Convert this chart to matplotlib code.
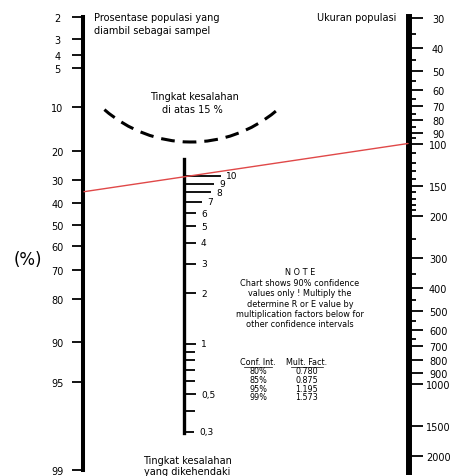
import matplotlib.pyplot as plt
from matplotlib.patches import Arc, ConnectionPatch
from matplotlib.ticker import NullLocator

# Nomogram: ukuran sampel (Harry King)
# Skala kiri - prosentase populasi yang diambil sebagai sampel
left_pct = [2, 3, 4, 5, 10, 20, 30, 40, 50, 60, 70, 80, 90, 95, 99]
# Skala tengah - tingkat kesalahan (%)
mid_vals = [10, 9, 8, 7, 6, 5, 4, 3, 2, 1, 0.9, 0.8, 0.7, 0.6, 0.5, 0.4, 0.3]
mid_labels = ["10", "9", "8", "7", "6", "5", "4", "3", "2", "1",
              "", "", "", "", "0,5", "", "0,3"]
# Skala kanan - ukuran populasi
right_major = [30, 40, 50, 60, 70, 80, 90, 100, 150, 200, 300, 400, 500,
               600, 700, 800, 900, 1000, 1500, 2000]
right_minor = [35, 45, 55, 65, 75, 85, 95, 110, 120, 130, 140, 160, 170, 180,
               190, 250, 350, 450, 550, 650]
# Contoh garis: 35 % sampel, populasi 100 -> kesalahan 10 %
example_pct = 35
example_pop = 100
# Faktor pengali untuk interval kepercayaan lain
conf_int = ["80%", "85%", "95%", "99%"]
mult_fact = ["0.780", "0.875", "1.195", "1.573"]

# panjang garis skala tengah, px (gaya)
mid_len = [37, 30, 27, 18, 12, 12, 12, 12, 12, 12, 11, 11, 11, 11, 12, 11, 10]

W, H = 451, 477
fig = plt.figure(figsize=(W / 100, H / 100), dpi=100)


def box(x0, y0, x1, y1):
    # piksel (y ke bawah) -> koordinat figure
    return [x0 / W, 1 - y1 / H, (x1 - x0) / W, (y1 - y0) / H]


def bare(ax):
    ax.patch.set_visible(False)
    ax.xaxis.set_visible(False)
    for s in ax.spines.values():
        s.set_visible(False)


# latar dalam piksel untuk teks dan busur
bg = fig.add_axes([0, 0, 1, 1])
bg.set_xlim(0, W)
bg.set_ylim(H, 0)
bg.axis("off")

fs = 7
bg.text(94, 18, "Prosentase populasi yang", fontsize=fs, va="center")
bg.text(94, 31, "diambil sebagai sampel", fontsize=fs, va="center")
bg.text(396, 18, "Ukuran populasi", fontsize=fs, va="center", ha="right")
bg.text(194, 97, "Tingkat kesalahan", fontsize=fs, va="center", ha="center")
bg.text(192, 110, "di atas 15 %", fontsize=fs, va="center", ha="center")
bg.text(187, 461, "Tingkat kesalahan", fontsize=fs, va="center", ha="center")
bg.text(187, 472, "yang dikehendaki", fontsize=fs, va="center", ha="center")
bg.text(28, 260, "(%)", fontsize=12, va="center", ha="center")

note = ["N O T E",
        "Chart shows 90% confidence",
        "values only ! Multiply the",
        "determine R or E value by",
        "multiplication factors below for",
        "other confidence intervals"]
for i, line in enumerate(note):
    bg.text(300, 273 + i * 10.4, line, fontsize=5.9, va="center", ha="center")

bg.text(258, 363, "Conf. Int.", fontsize=5.8, va="center", ha="center")
bg.text(307, 363, "Mult. Fact.", fontsize=5.8, va="center", ha="center")
bg.plot([244, 272], [367.5, 367.5], c="k", lw=0.5)
bg.plot([291, 323], [367.5, 367.5], c="k", lw=0.5)
for i, (c, m) in enumerate(zip(conf_int, mult_fact)):
    bg.text(258, 372 + i * 8.6, c, fontsize=5.8, va="center", ha="center")
    bg.text(307, 372 + i * 8.6, m, fontsize=5.8, va="center", ha="center")

# busur putus-putus "di atas 15 %"
bg.add_patch(Arc((191, 11), 264, 264, theta1=50, theta2=131, color="k",
                 lw=2.2, ls=(0, (4.5, 2.6))))

# skala kiri (logit)
ax_l = fig.add_axes(box(83, 18, 84, 471))
bare(ax_l)
ax_l.spines["left"].set_visible(True)
ax_l.spines["left"].set_linewidth(2.9)
ax_l.set_yscale("logit")
ax_l.set_ylim(0.99, 0.02)
ax_l.set_yticks([p / 100 for p in left_pct], [str(p) for p in left_pct])
ax_l.yaxis.set_minor_locator(NullLocator())
ax_l.tick_params(axis="y", length=8, width=1.3, pad=10.5, labelsize=fs)
for lab in ax_l.get_yticklabels():
    lab.set_ha("center")

# skala tengah (log)
ax_m = fig.add_axes(box(184, 160, 284, 434))
bare(ax_m)
ax_m.spines["left"].set_visible(True)
ax_m.spines["left"].set_linewidth(2.4)
ax_m.set_yscale("log")
ax_m.set_ylim(0.295, 12.6)
ax_m.set_xlim(0, 100)
ax_m.yaxis.set_visible(False)
tr = ax_m.get_yaxis_transform()
for v, lab, L in zip(mid_vals, mid_labels, mid_len):
    ax_m.plot([0, L / 100], [v, v], c="k", lw=1.3, transform=tr,
              solid_capstyle="butt")
    ax_m.text(L / 100 + 0.05, v, lab, fontsize=6.5, va="center",
              transform=tr)

# skala kanan (log), 30 di atas
ax_r = fig.add_axes(box(408, 18, 409, 473))
bare(ax_r)
ax_r.spines["right"].set_visible(True)
ax_r.spines["right"].set_linewidth(4.3)
ax_r.set_yscale("log")
ax_r.set_ylim(2337, 29.71)
ax_r.yaxis.tick_right()
ax_r.set_yticks(right_major, [str(v) for v in right_major])
ax_r.set_yticks(right_minor, minor=True)
ax_r.yaxis.set_minor_formatter(plt.NullFormatter())
ax_r.tick_params(axis="y", which="major", length=10, width=1.3, pad=11,
                 labelsize=fs)
ax_r.tick_params(axis="y", which="minor", length=5, width=1.3)
for lab in ax_r.get_yticklabels():
    lab.set_ha("center")

# garis contoh
con = ConnectionPatch(xyA=(1, example_pct / 100), coordsA=ax_l.get_yaxis_transform(),
                      xyB=(0, example_pop), coordsB=ax_r.get_yaxis_transform(),
                      color="#e04848", lw=1.0)
fig.add_artist(con)

fig.savefig("out.png", dpi=100)
